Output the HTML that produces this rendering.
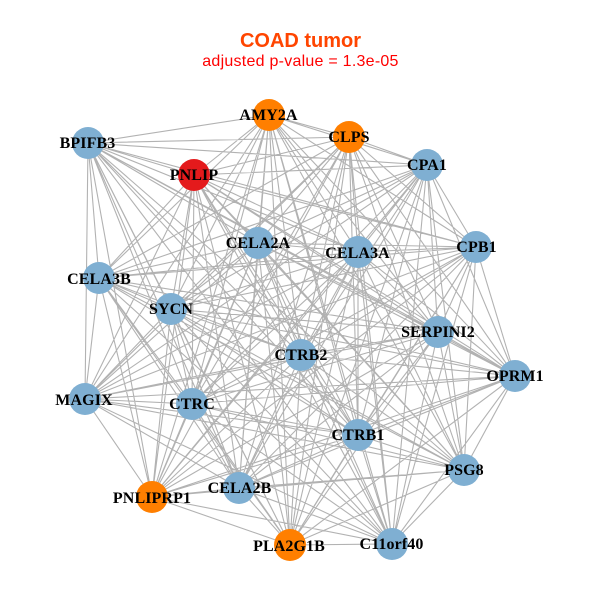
<!DOCTYPE html>
<html><head><meta charset="utf-8"><style>
html,body{margin:0;padding:0;background:#fff}
svg{display:block}
.t{font-family:"Liberation Serif",serif;font-weight:bold;font-size:16px;letter-spacing:.1px;fill:#000;text-anchor:middle}
</style></head><body>
<svg id="s" xmlns="http://www.w3.org/2000/svg" width="600" height="600" viewBox="0 0 600 600">
<rect width="600" height="600" fill="#fff"/>
<path id="e" fill="none" stroke="#b2b2b2" stroke-width="1.1"/>
<text x="300.500" y="47" text-anchor="middle" style="font-family:'Liberation Sans',sans-serif;font-weight:bold;font-size:20px" fill="#ff4500">COAD tumor</text>
<text x="300.500" y="66" text-anchor="middle" style="font-family:'Liberation Sans',sans-serif;font-size:16px;letter-spacing:.25px" fill="#ff0000">adjusted p-value = 1.3e-05</text>
<g id="n">
<circle cx="269" cy="115" r="16" fill="#ff7f00"/><circle cx="349" cy="137" r="16" fill="#ff7f00"/>
<circle cx="88" cy="143" r="16" fill="#7fafd2"/><circle cx="194" cy="175" r="16" fill="#e41a1c"/>
<circle cx="427" cy="165" r="16" fill="#7fafd2"/><circle cx="258" cy="243" r="16" fill="#7fafd2"/>
<circle cx="358" cy="252" r="16" fill="#7fafd2"/><circle cx="476" cy="247" r="16" fill="#7fafd2"/>
<circle cx="99" cy="278" r="16" fill="#7fafd2"/><circle cx="171" cy="309" r="16" fill="#7fafd2"/>
<circle cx="438" cy="332" r="16" fill="#7fafd2"/><circle cx="301" cy="355" r="16" fill="#7fafd2"/>
<circle cx="515" cy="376" r="16" fill="#7fafd2"/><circle cx="85" cy="399" r="16" fill="#7fafd2"/>
<circle cx="192" cy="404" r="16" fill="#7fafd2"/><circle cx="358" cy="435" r="16" fill="#7fafd2"/>
<circle cx="464" cy="470" r="16" fill="#7fafd2"/><circle cx="239" cy="488" r="16" fill="#7fafd2"/>
<circle cx="152" cy="497" r="16" fill="#ff7f00"/><circle cx="290" cy="545" r="16" fill="#ff7f00"/>
<circle cx="392" cy="544" r="16" fill="#7fafd2"/>
</g>
<text class="t" x="268.500" y="120">AMY2A</text><text class="t" x="349" y="142">CLPS</text>
<text class="t" x="87.500" y="148">BPIFB3</text><text class="t" x="194" y="180">PNLIP</text>
<text class="t" x="427" y="170">CPA1</text><text class="t" x="258" y="248">CELA2A</text>
<text class="t" x="357.500" y="258">CELA3A</text><text class="t" x="476.500" y="252">CPB1</text>
<text class="t" x="99" y="284">CELA3B</text><text class="t" x="171" y="314">SYCN</text>
<text class="t" x="438" y="337">SERPINI2</text><text class="t" x="301" y="360">CTRB2</text>
<text class="t" x="515" y="381">OPRM1</text><text class="t" x="84" y="405">MAGIX</text>
<text class="t" x="192" y="409">CTRC</text><text class="t" x="358" y="440">CTRB1</text>
<text class="t" x="464" y="475">PSG8</text><text class="t" x="239.500" y="493">CELA2B</text>
<text class="t" x="152" y="503">PNLIPRP1</text><text class="t" x="289" y="551">PLA2G1B</text>
<text class="t" x="391.500" y="549">C11orf40</text>
</svg>
<script>
var P=[[269,115],[349,137],[88,143],[194,175],[427,165],[258,243],[358,252],[476,247],[99,278],[171,309],[438,332],[301,355],[515,376],[85,399],[192,404],[358,435],[464,470],[239,488],[152,497],[290,545],[392,544]];
var d="";
for(var i=0;i<P.length;i++)for(var j=i+1;j<P.length;j++){if(i==13&&j==19)continue;d+="M"+P[i]+"L"+P[j];}
document.getElementById("e").setAttribute("d",d);
</script>
</body></html>
